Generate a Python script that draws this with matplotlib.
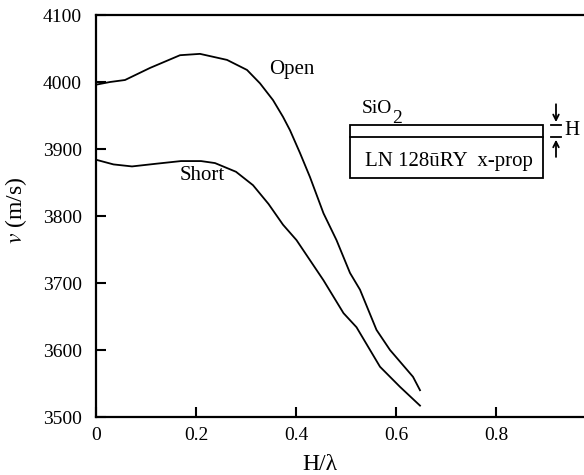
import numpy as np
import matplotlib.pyplot as plt

plt.rcParams['font.family'] = ['Liberation Serif', 'DejaVu Serif']
plt.rcParams['mathtext.fontset'] = 'stix'

# Open circuit curve
x_open = [0.0, 0.028, 0.058, 0.108, 0.168, 0.208, 0.262, 0.302, 0.328, 0.354,
          0.374, 0.388, 0.408, 0.428, 0.455, 0.481, 0.508, 0.528, 0.561, 0.588,
          0.634, 0.648]
v_open = [3996, 4000, 4003, 4021, 4040, 4042, 4033, 4018, 3998, 3973,
          3948, 3928, 3894, 3858, 3804, 3764, 3715, 3690, 3630, 3600,
          3560, 3540]

# Short circuit curve
x_short = [0.0, 0.035, 0.072, 0.12, 0.17, 0.21, 0.238, 0.28, 0.314, 0.345,
           0.374, 0.401, 0.428, 0.455, 0.495, 0.521, 0.568, 0.608, 0.648]
v_short = [3884, 3877, 3874, 3878, 3882, 3882, 3879, 3866, 3846, 3818,
           3787, 3764, 3734, 3704, 3655, 3634, 3575, 3545, 3517]

xticks = [0, 0.2, 0.4, 0.6, 0.8]
xticklabels = ['0', '0.2', '0.4', '0.6', '0.8']
yticks = [3500, 3600, 3700, 3800, 3900, 4000, 4100]

fig = plt.figure(figsize=(5.84, 4.75), dpi=100)
ax = fig.add_axes([0.1644, 0.1221, 0.8356, 0.8463])

ax.plot(x_open, v_open, color='black', lw=1.3)
ax.plot(x_short, v_short, color='black', lw=1.3)

ax.set_xlim(0, 0.976)
ax.set_ylim(3500, 4100)
ax.set_xticks(xticks)
ax.set_xticklabels(xticklabels)
ax.set_yticks(yticks)
ax.tick_params(direction='in', length=7, width=1.5, labelsize=14)
ax.tick_params(axis='x', pad=7)
ax.tick_params(axis='y', pad=10)
for s in ['left', 'top', 'bottom']:
    ax.spines[s].set_linewidth(1.6)
ax.spines['right'].set_visible(False)

ax.set_xlabel('H/λ', fontsize=17)
ax.xaxis.set_label_coords(0.459, -0.092)
ax.set_ylabel(r'$v$ (m/s)', fontsize=17)
ax.yaxis.set_label_coords(-0.137, 0.515)

ax.text(0.346, 4019, 'Open', fontsize=15, ha='left', va='center')
ax.text(0.168, 3861, 'Short', fontsize=15, ha='left', va='center')

# inset: layer structure sketch
ax.add_patch(plt.Rectangle((0.508, 3857), 0.386, 79, fill=False, lw=1.3, color='black'))
ax.plot([0.508, 0.894], [3918, 3918], color='black', lw=1.3)
ax.text(0.532, 3960, 'SiO', fontsize=14, ha='left', va='center')
ax.text(0.593, 3946, '2', fontsize=14, ha='left', va='center')
ax.text(0.705, 3882, 'LN 128ūRY  x-prop', fontsize=15, ha='center', va='center')
ax.annotate('', xy=(0.92, 3936), xytext=(0.92, 3971),
            arrowprops=dict(arrowstyle='->', color='black', lw=1.3))
ax.annotate('', xy=(0.92, 3918), xytext=(0.92, 3884),
            arrowprops=dict(arrowstyle='->', color='black', lw=1.3))
ax.plot([0.91, 0.93], [3936, 3936], color='black', lw=1.3, clip_on=False)
ax.plot([0.91, 0.93], [3918, 3918], color='black', lw=1.3, clip_on=False)
ax.text(0.936, 3927, 'H', fontsize=15, ha='left', va='center')

fig.savefig('out.png', dpi=100)
